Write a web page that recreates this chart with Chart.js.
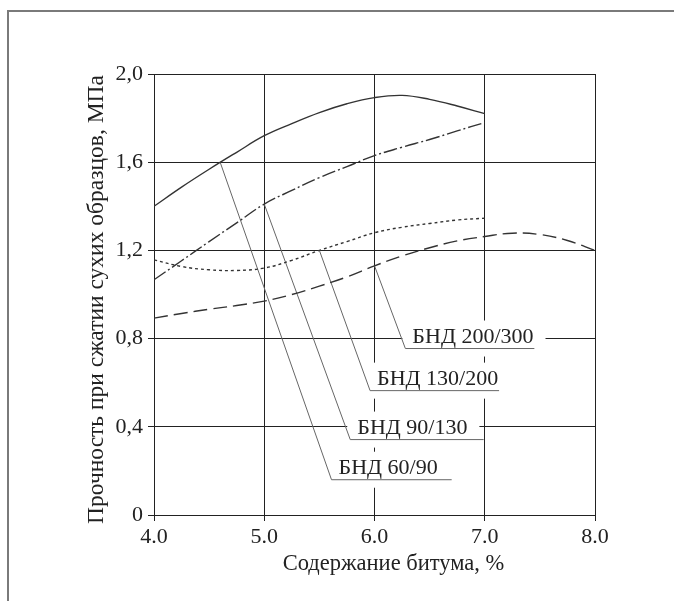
<!DOCTYPE html>
<html>
<head>
<meta charset="utf-8">
<script src="https://cdn.jsdelivr.net/npm/chart.js@4/dist/chart.umd.min.js"></script>
<style>
html, body { margin: 0; padding: 0; background: #fff; }
#wrap { position: relative; width: 674px; height: 601px; overflow: hidden; }
#frame { position: absolute; left: 7px; top: 10px; right: -4px; bottom: -4px;
         border-top: 2px solid #7a7a7a; border-left: 2px solid #7a7a7a; }
canvas { position: absolute; left: 0; top: 0; }
</style>
</head>
<body>
<div id="wrap">
  <div id="frame"></div>
  <canvas id="chart" width="674" height="601"></canvas>
</div>
<script>
// bitumen content, %
const bitumen = [4.0, 4.25, 4.5, 4.75, 5.0, 5.25, 5.5, 5.75, 6.0, 6.25, 6.5, 6.75, 7.0];
const bitumenLong = [4.0, 4.25, 4.5, 4.75, 5.0, 5.25, 5.5, 5.75, 6.0, 6.25, 6.5, 6.75, 7.0, 7.25, 7.5, 7.75, 8.0];

// compressive strength of dry samples, MPa
const bnd6090   = [1.40, 1.487, 1.568, 1.645, 1.72, 1.775, 1.825, 1.865, 1.893, 1.903, 1.885, 1.855, 1.82];
const bnd90130  = [1.067, 1.153, 1.24, 1.325, 1.41, 1.472, 1.53, 1.58, 1.63, 1.668, 1.703, 1.742, 1.78];
const bnd130200 = [1.157, 1.127, 1.112, 1.109, 1.12, 1.155, 1.2, 1.24, 1.28, 1.305, 1.322, 1.338, 1.346];
const bnd200300 = [0.893, 0.914, 0.933, 0.95, 0.97, 1.0, 1.038, 1.08, 1.13, 1.175, 1.212, 1.243, 1.263, 1.278, 1.272, 1.245, 1.2];

// tick labels
const xTickValues = [4, 5, 6, 7, 8];
const xTickLabels = ['4.0', '5.0', '6.0', '7.0', '8.0'];
const yTickValues = [0, 0.4, 0.8, 1.2, 1.6, 2.0];
const yTickLabels = ['0', '0,4', '0,8', '1,2', '1,6', '2,0'];

const xTitle = 'Содержание битума, %';
const yTitle = 'Прочность при сжатии сухих образцов, МПа';

// callouts: curve point -> elbow -> end of underline
const calloutNames  = ['БНД 60/90', 'БНД 90/130', 'БНД 130/200', 'БНД 200/300'];
const calloutFromX  = [4.6, 5.0, 5.5, 6.0];
const calloutFromY  = [1.6, 1.41, 1.2, 1.13];
const calloutElbowX = [5.61, 5.78, 5.96, 6.28];
const calloutElbowY = [0.16, 0.342, 0.564, 0.755];
const calloutEndX   = [6.70, 6.99, 7.13, 7.45];

const serif = '"Liberation Serif", "Times New Roman", serif';

function points(xs, ys) {
    return xs.map((x, i) => ({ x: x, y: ys[i] }));
}

function curve(label, xs, ys, dash) {
    return {
        label: label,
        data: points(xs, ys),
        borderColor: '#333',
        borderWidth: 1.4,
        borderDash: dash,
        pointRadius: 0,
        tension: 0.4,
        fill: false
    };
}

const leaders = calloutNames.map((name, i) => ({
    label: name + ' leader',
    data: [
        { x: calloutFromX[i], y: calloutFromY[i] },
        { x: calloutElbowX[i], y: calloutElbowY[i] },
        { x: calloutEndX[i], y: calloutElbowY[i] }
    ],
    borderColor: '#666',
    borderWidth: 1,
    pointRadius: 0,
    tension: 0,
    fill: false
}));

// white boxes + text for the callout labels, under the leader lines
const calloutPlugin = {
    id: 'callouts',
    beforeDatasetsDraw(chart) {
        const { ctx, scales: { x, y } } = chart;
        ctx.save();
        ctx.font = '22px ' + serif;
        ctx.textBaseline = 'alphabetic';
        calloutNames.forEach((name, i) => {
            const px = x.getPixelForValue(calloutElbowX[i]) + 7;
            const py = y.getPixelForValue(calloutElbowY[i]) - 6;
            const w = ctx.measureText(name).width;
            ctx.fillStyle = '#fff';
            ctx.fillRect(px - 10, py - 22, w + 22, 36);
            ctx.fillStyle = '#222';
            ctx.fillText(name, px, py);
        });
        ctx.restore();
    }
};

// axis titles (the original sits a bit off the plot centre)
const titlePlugin = {
    id: 'axisTitles',
    afterDraw(chart) {
        const { ctx, chartArea: a } = chart;
        ctx.save();
        ctx.fillStyle = '#222';
        ctx.textAlign = 'center';
        ctx.textBaseline = 'middle';
        ctx.font = '22.5px ' + serif;
        ctx.fillText(xTitle, (a.left + a.right) / 2 + 19, a.bottom + 49);
        ctx.translate(a.left - 57, (a.top + a.bottom) / 2 + 5);
        ctx.rotate(-Math.PI / 2);
        ctx.font = '23.5px ' + serif;
        ctx.fillText(yTitle, 0, 0);
        ctx.restore();
    }
};

new Chart(document.getElementById('chart'), {
    type: 'line',
    data: {
        datasets: [
            curve('БНД 60/90', bitumen, bnd6090, []),
            curve('БНД 90/130', bitumen, bnd90130, [14, 3, 2, 3]),
            curve('БНД 130/200', bitumen, bnd130200, [3, 3]),
            curve('БНД 200/300', bitumenLong, bnd200300, [14, 6])
        ].concat(leaders)
    },
    options: {
        responsive: false,
        animation: false,
        devicePixelRatio: 1,
        layout: { padding: { left: 84, right: 79, top: 74, bottom: 25 } },
        plugins: {
            legend: { display: false },
            tooltip: { enabled: false }
        },
        scales: {
            x: {
                type: 'linear',
                min: 4,
                max: 8,
                afterBuildTicks: s => { s.ticks = xTickValues.map(v => ({ value: v })); },
                afterFit: s => { s.height = 61; },
                ticks: {
                    color: '#222',
                    font: { family: serif, size: 22 },
                    padding: 3,
                    maxRotation: 0,
                    callback: (v, i) => xTickLabels[i]
                },
                grid: { color: '#222', lineWidth: 1, tickLength: 6 },
                border: { color: '#222' }
            },
            y: {
                min: 0,
                max: 2,
                afterBuildTicks: s => { s.ticks = yTickValues.map(v => ({ value: v })); },
                afterFit: s => { s.width = 70; },
                ticks: {
                    color: '#222',
                    font: { family: serif, size: 22 },
                    padding: 5,
                    callback: (v, i) => yTickLabels[i]
                },
                grid: { color: '#222', lineWidth: 1, tickLength: 6 },
                border: { color: '#222' }
            }
        }
    },
    plugins: [calloutPlugin, titlePlugin]
});
</script>
</body>
</html>
